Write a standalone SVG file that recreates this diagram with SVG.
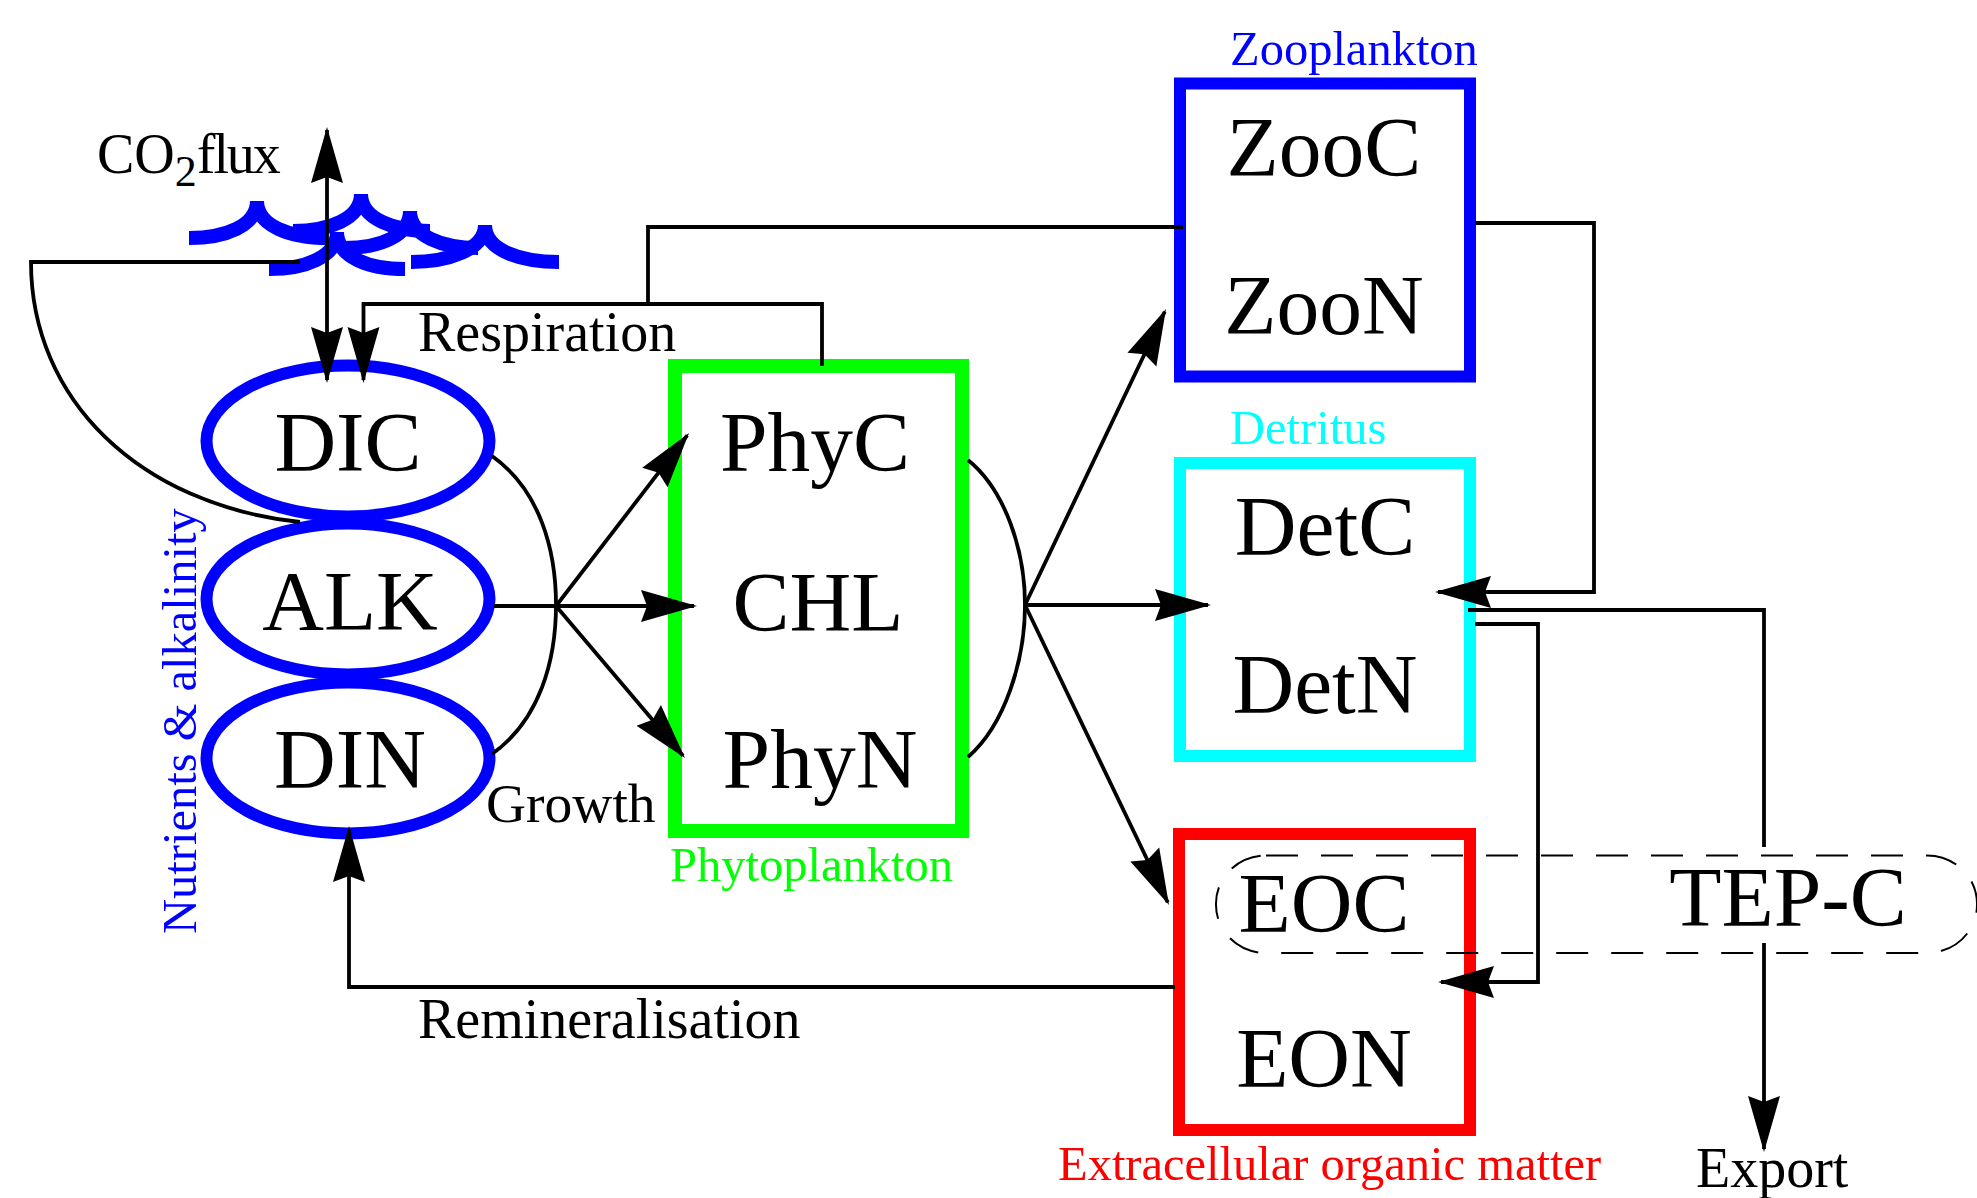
<svg xmlns="http://www.w3.org/2000/svg" width="1977" height="1198" viewBox="0 0 1977 1198">
<style>
text{font-family:"Liberation Serif","Times New Roman",serif;fill:#000}
.big{font-size:85.500px;text-anchor:middle}
.mid{font-size:56px}
.lab{font-size:48.500px}
.box{fill:none;stroke-width:12}
.oval{fill:none;stroke:#00f;stroke-width:12}
.wave{fill:none;stroke:#00f;stroke-width:14;stroke-linejoin:bevel}
.con{fill:none;stroke:#000;stroke-width:3.800}
.arr{marker-end:url(#ah)}
</style>
<defs>
<marker id="ah" markerUnits="userSpaceOnUse" viewBox="0 -17 56 34" refX="53" refY="0" markerWidth="56" markerHeight="34" orient="auto-start-reverse">
<path d="M56 0L0 -16L6 0L0 16Z" fill="#000"/>
</marker>
</defs>
<rect width="1977" height="1198" fill="#fff"/>
<g id="waves">
<path class="wave" d="M189 238C225 238 257 226 257 201C257 226 290 238 328 238"/>
<path class="wave" d="M293 231C329 231 361 219 361 194C361 219 394 231 430 231"/>
<path class="wave" d="M344 248C380 248 410 236 410 211C410 236 442 248 478 248"/>
<path class="wave" d="M411 262C447 262 485 250 485 225C485 250 520 262 559 262"/>
<path class="wave" d="M269 269C305 269 337 257 337 232C337 257 368 269 405 269"/>
</g>
<g id="nutrients">
<g id="dic"><ellipse class="oval" cx="348" cy="441" rx="141.500" ry="75.500"/><text class="big" x="348" y="471">DIC</text></g>
<g id="alk"><ellipse class="oval" cx="348" cy="599" rx="141.500" ry="75.500"/><text class="big" x="350" y="630">ALK</text></g>
<g id="din"><ellipse class="oval" cx="348" cy="758" rx="141.500" ry="75.500"/><text class="big" x="350" y="788">DIN</text></g>
<text class="lab" style="fill:#00f" transform="translate(196 934) rotate(-90)">Nutrients &amp; alkalinity</text>
</g>
<g id="phytoplankton">
<rect class="box" x="675" y="366" width="287" height="465" stroke="#0f0" style="stroke-width:14"/>
<text class="big" x="815" y="471">PhyC</text><text class="big" x="818" y="631">CHL</text><text class="big" x="820" y="788">PhyN</text>
<text class="lab" style="fill:#0f0" x="670" y="881">Phytoplankton</text>
</g>
<g id="zooplankton">
<rect class="box" x="1180" y="83.500" width="290" height="293" stroke="#00f"/>
<text class="big" x="1324" y="176">ZooC</text><text class="big" x="1324" y="334">ZooN</text>
<text class="lab" style="fill:#00f" x="1230" y="65">Zooplankton</text>
</g>
<g id="detritus">
<rect class="box" x="1180" y="463" width="290" height="293" stroke="#0ff"/>
<text class="big" x="1325" y="555">DetC</text><text class="big" x="1325" y="713">DetN</text>
<text class="lab" style="fill:#0ff" x="1230" y="444">Detritus</text>
</g>
<g id="eom">
<rect class="box" x="1179" y="834" width="291" height="296" stroke="#f00"/>
<text class="big" x="1324" y="932">EOC</text><text class="big" x="1324" y="1087">EON</text>
<text class="lab" style="fill:#f00" x="1058" y="1180">Extracellular organic matter</text>
</g>
<g id="tep">
<rect x="1216" y="855.500" width="761" height="97.500" rx="50" ry="48" fill="none" stroke="#000" stroke-width="2" stroke-dasharray="32 23"/>
<text class="big" x="1788" y="926">TEP-C</text>
</g>
<g id="connectors">
<path class="con" d="M300 262H31C31 400 140 505 300 522"/>
<line class="con" x1="327" y1="130" x2="327" y2="380" marker-start="url(#ah)" marker-end="url(#ah)"/>
<path class="con arr" d="M822 366V304H363.500V380"/>
<path class="con" d="M1183 227H648V304"/>
<path class="con arr" d="M1475 223H1594V592H1438"/>
<path class="con" d="M1468 610H1764V847"/>
<path class="con arr" d="M1764 943V1149"/>
<path class="con arr" d="M1475 624H1538V982H1441"/>
<path class="con arr" d="M1175 987H349V829"/>
<path class="con" d="M492 456C540 490 556 550 556 605C556 660 540 720 492 754"/>
<path class="con arr" d="M494 606H694"/>
<path class="con arr" d="M556 606L687.200 435.400"/>
<path class="con arr" d="M556 606L683 755.700"/>
<path class="con" d="M968 460C1005 490 1025 550 1025 605C1025 660 1005 725 968 757"/>
<path class="con arr" d="M1025 605L1164.700 311.700"/>
<path class="con arr" d="M1025 605H1208"/>
<path class="con arr" d="M1025 605L1167.700 902.300"/>
</g>
<g id="labels">
<text class="mid" x="97" y="173">CO<tspan font-size="44" dy="13">2</tspan><tspan dy="-13" textLength="84" lengthAdjust="spacing">flux</tspan></text>
<text class="mid" x="418" y="351">Respiration</text>
<text class="mid" x="486" y="822" style="font-size:55.500px">Growth</text>
<text class="mid" x="418" y="1038">Remineralisation</text>
<text class="mid" x="1696" y="1187">Export</text>
</g>
</svg>
